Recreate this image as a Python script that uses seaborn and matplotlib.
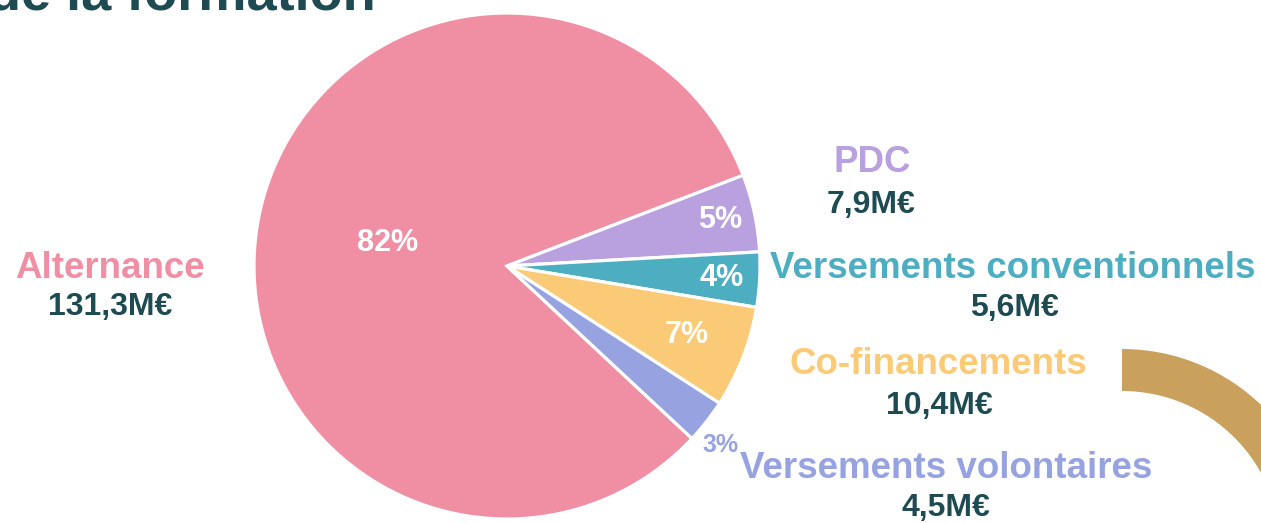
import numpy as np
import matplotlib
matplotlib.use("Agg")
import matplotlib.pyplot as plt
from matplotlib.patches import Wedge
import seaborn as sns

sns.set_theme(style="white")
plt.rcParams['font.family'] = ['Liberation Sans', 'DejaVu Sans']

# Données (en M€)
categories = ['Alternance', 'PDC', 'Versements conventionnels',
              'Co-financements', 'Versements volontaires']
montants = [131.3, 7.9, 5.6, 10.4, 4.5]
couleurs = sns.color_palette(['#F08FA3', '#B9A0DE', '#4DAEC2', '#FACA77', '#97A3E1'])
montants_txt = ['{:.1f}M€'.format(v).replace('.', ',') for v in montants]

dark = '#1E4A52'

fig = plt.figure(figsize=(12.61, 5.23), dpi=100)

# camembert
R = 253
cx, cy = 507, 523 - 266
ax = fig.add_axes([(cx - R) / 1261, (cy - R) / 523, 2 * R / 1261, 2 * R / 523])
wedges, _, pcts = ax.pie(montants, colors=couleurs, startangle=317, counterclock=False,
                         autopct='%.0f%%', pctdistance=0.8,
                         wedgeprops=dict(edgecolor='white', linewidth=2.3),
                         textprops=dict(color='white', fontweight='bold', fontsize=22))
ax.set_xlim(-1, 1)
ax.set_ylim(-1, 1)
ax.set_aspect('auto')

# position des pourcentages le long de l'angle médian de chaque part
pct_r = [0.48, 0.86, 0.85, 0.76, 1.1]
pct_da = [0, 0, 0, 0, -2]
for w, t, r, da in zip(wedges, pcts, pct_r, pct_da):
    a = np.deg2rad((w.theta1 + w.theta2) / 2 + da)
    t.set_position((r * np.cos(a), r * np.sin(a)))
pcts[4].set_color(couleurs[4])
pcts[4].set_fontsize(18)

# calque en coordonnées pixels pour les libellés
ov = fig.add_axes([0, 0, 1, 1], zorder=-1)
ov.set_xlim(0, 1261)
ov.set_ylim(523, 0)
ov.axis('off')

# arc décoratif
ov.add_patch(Wedge((1122, 550), 201, 270, 360, width=42, color='#C9A15D', lw=0))

# titre (coupé en haut)
ov.text(-12, 9, 'de la formation', color=dark, fontsize=39, fontweight='bold',
        ha='left', va='baseline')

pos_nom = [(110, 268), (872, 162), (1013, 268), (938, 364), (946, 468)]
pos_val = [(110, 307), (871, 205), (1014, 308), (939, 406), (946, 508)]
for i, cat in enumerate(categories):
    ov.text(*pos_nom[i], cat, color=couleurs[i], fontsize=26.5, fontweight='bold',
            ha='center', va='center')
    ov.text(*pos_val[i], montants_txt[i], color=dark, fontsize=23, fontweight='bold',
            ha='center', va='center')

fig.savefig('out.png', dpi=100)
